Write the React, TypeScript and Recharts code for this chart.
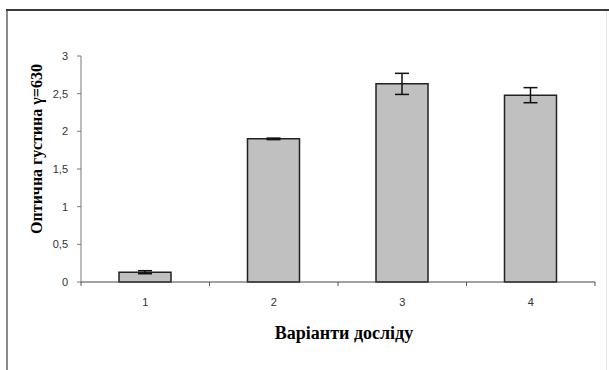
import React from "react";
import { BarChart, Bar, XAxis, YAxis, ErrorBar } from "recharts";

const categories = [1, 2, 3, 4];
const values = [0.13, 1.9, 2.63, 2.48];
const errors = [0.02, 0.01, 0.14, 0.1];
const yTicks = [0, 0.5, 1, 1.5, 2, 2.5, 3];
const xTicks = [0.5, 1, 1.5, 2, 2.5, 3, 3.5, 4, 4.5];
const yLabel = "Оптична густина γ=630";
const xLabel = "Варіанти досліду";

const data = categories.map((c, i) => ({ x: c, v: values[i], err: errors[i] }));

const XTick = (props: any) => {
  const { x, y, payload } = props;
  const val = payload.value;
  if (Number.isInteger(val)) {
    return (
      <text x={x} y={y + 24} textAnchor="middle" fontSize={11} fill="#333" fontFamily="Liberation Sans, Arial, sans-serif">
        {String(val)}
      </text>
    );
  }
  return <line x1={x} x2={x} y1={y} y2={y + 4} stroke="#555" strokeWidth={1} />;
};

const YLabel = (props: any) => {
  const vb = props.viewBox || {};
  const cx = 36;
  const cy = (vb.y ?? 0) + (vb.height ?? 0) / 2 - 20;
  return (
    <text
      x={cx}
      y={cy}
      transform={`rotate(-90, ${cx}, ${cy})`}
      textAnchor="middle"
      dominantBaseline="central"
      fontSize={16}
      fontWeight="bold"
      fontFamily="Liberation Serif, Times New Roman, serif"
      fill="#000"
    >
      {yLabel}
    </text>
  );
};

const XLabel = (props: any) => {
  const vb = props.viewBox || {};
  const cx = (vb.x ?? 0) + (vb.width ?? 0) / 2 + 6;
  return (
    <text
      x={cx}
      y={339}
      textAnchor="middle"
      fontSize={18}
      fontWeight="bold"
      fontFamily="Liberation Serif, Times New Roman, serif"
      fill="#000"
    >
      {xLabel}
    </text>
  );
};

export default function App() {
  return (
    <div style={{ position: "absolute", left: 0, top: 0, width: 609, height: 370, background: "#fff" }}>
      <div style={{ position: "absolute", left: 6, top: 9, width: 0, height: 361, borderLeft: "2px solid #8a8a8a" }} />
      <div style={{ position: "absolute", left: 6, top: 9, width: 603, height: 0, borderTop: "2px solid #3a3a3a" }} />
      <div style={{ position: "absolute", left: 606, top: 11, width: 0, height: 359, borderLeft: "1px solid #e4e4e4" }} />
      <div style={{ position: "absolute", left: 0, top: 0 }}>
        <BarChart width={609} height={370} data={data} margin={{ top: 56, right: 14, bottom: 18, left: 6 }}>
          <XAxis
            dataKey="x"
            type="number"
            domain={[0.5, 4.5]}
            ticks={xTicks}
            interval={0}
            tickLine={false}
            tickSize={0}
            tickMargin={0}
            tick={<XTick />}
            axisLine={{ stroke: "#444", strokeWidth: 1 }}
            height={70}
            label={<XLabel />}
          />
          <YAxis
            type="number"
            domain={[0, 3]}
            ticks={yTicks}
            interval={0}
            width={75}
            tickSize={4}
            tickMargin={9}
            tickLine={{ stroke: "#777" }}
            axisLine={{ stroke: "#777", strokeWidth: 1 }}
            tick={{ fontSize: 11, fill: "#333", fontFamily: "Liberation Sans, Arial, sans-serif" }}
            tickFormatter={(v: number) => String(v).replace(".", ",")}
            label={<YLabel />}
          />
          <Bar dataKey="v" fill="#c0c0c0" stroke="#222" strokeWidth={1.5} barSize={52} isAnimationActive={false}>
            <ErrorBar dataKey="err" width={7} stroke="#111" strokeWidth={1.5} />
          </Bar>
        </BarChart>
      </div>
    </div>
  );
}
